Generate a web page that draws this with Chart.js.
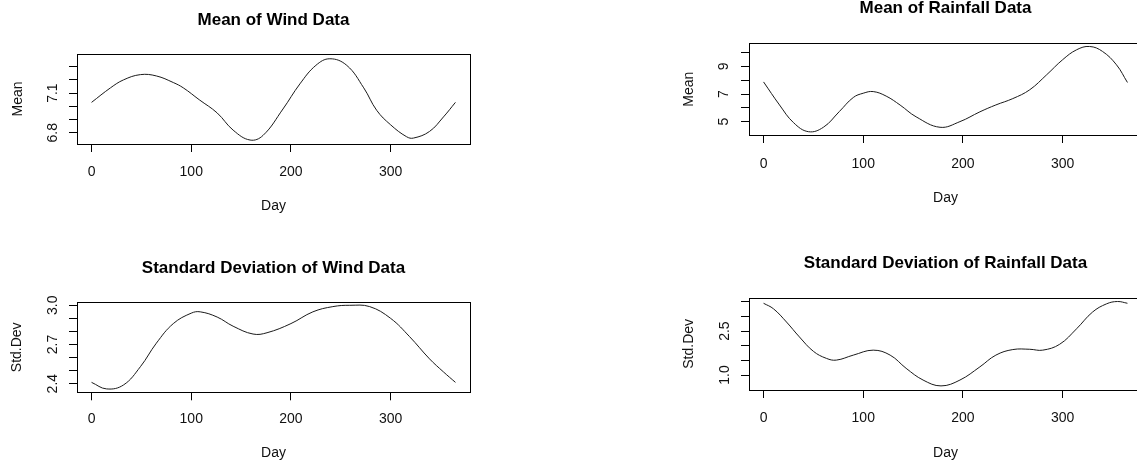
<!DOCTYPE html>
<html>
<head>
<meta charset="utf-8">
<script src="https://cdn.jsdelivr.net/npm/chart.js"></script>
<title>Wind and Rainfall Statistics</title>
<style>
  html, body { margin: 0; padding: 0; background: #fff; overflow: hidden; width: 1137px; height: 462px; }
  canvas { position: absolute; }
</style>
</head>
<body>
<canvas id="windMean" width="568" height="212" style="left:0px; top:6px;"></canvas>
<canvas id="rainMean" width="480" height="216" style="left:672px; top:-6px;"></canvas>
<canvas id="windSd" width="568" height="212" style="left:0px; top:254px;"></canvas>
<canvas id="rainSd" width="480" height="217" style="left:672px; top:249px;"></canvas>

<script>
// values (day of year -> value)
const windMeanDays = [0, 19, 32, 49, 65, 82, 92, 108, 126, 142, 159, 172, 192, 209, 225, 239, 256, 273, 286, 300, 316, 323, 339, 353, 365];
const windMean = [7.03, 7.14, 7.20, 7.24, 7.23, 7.18, 7.14, 7.05, 6.95, 6.82, 6.745, 6.78, 6.98, 7.17, 7.31, 7.36, 7.31, 7.14, 6.97, 6.86, 6.77, 6.76, 6.81, 6.92, 7.03];

const rainMeanDays = [0, 16, 30, 45, 60, 76, 90, 100, 110, 123, 137, 153, 177, 197, 217, 233, 250, 267, 284, 300, 314, 327, 340, 354, 365];
const rainMean = [7.88, 6.21, 4.93, 4.27, 4.59, 5.73, 6.75, 7.06, 7.18, 6.85, 6.20, 5.35, 4.59, 5.00, 5.71, 6.21, 6.67, 7.31, 8.40, 9.49, 10.21, 10.45, 10.09, 9.12, 7.84];

const windSdDays = [0, 15, 32, 49, 65, 82, 100, 109, 126, 142, 162, 176, 200, 222, 242, 259, 279, 300, 319, 339, 353, 365];
const windSd = [2.41, 2.36, 2.39, 2.53, 2.71, 2.86, 2.94, 2.95, 2.91, 2.84, 2.78, 2.79, 2.86, 2.95, 2.99, 3.00, 2.99, 2.90, 2.76, 2.59, 2.49, 2.41];

const rainSdDays = [0, 10, 23, 36, 50, 63, 73, 90, 110, 127, 143, 160, 178, 197, 217, 233, 250, 267, 280, 297, 314, 330, 344, 355, 365];
const rainSd = [3.45, 3.26, 2.81, 2.30, 1.81, 1.57, 1.51, 1.68, 1.85, 1.68, 1.23, 0.83, 0.63, 0.83, 1.28, 1.68, 1.87, 1.88, 1.85, 2.05, 2.58, 3.15, 3.43, 3.51, 3.45];

// tick values and labels (R drops the labels that would overlap)
const dayTicks = [0, 100, 200, 300];
const windMeanTicks = [6.8, 6.9, 7.0, 7.1, 7.2, 7.3];
const windMeanLabels = ['6.8', '', '', '7.1', '', ''];
const rainMeanTicks = [5, 6, 7, 8, 9, 10];
const rainMeanLabels = ['5', '', '7', '', '9', ''];
const windSdTicks = [2.4, 2.5, 2.6, 2.7, 2.8, 2.9, 3.0];
const windSdLabels = ['2.4', '', '', '2.7', '', '', '3.0'];
const rainSdTicks = [1.0, 1.5, 2.0, 2.5, 3.0, 3.5];
const rainSdLabels = ['1.0', '', '', '2.5', '', ''];

Chart.defaults.font.family = "'Liberation Sans', Arial, sans-serif";
Chart.defaults.color = '#111';

// draws the closed frame around the plot region, like R's box()
const plotBox = {
    id: 'plotBox',
    afterDatasetsDraw(chart) {
        const { ctx, chartArea: a } = chart;
        ctx.save();
        ctx.strokeStyle = '#000';
        ctx.lineWidth = 1;
        ctx.strokeRect(Math.round(a.left) + 0.5, Math.round(a.top) + 0.5,
            Math.round(a.right - a.left), Math.round(a.bottom - a.top));
        ctx.restore();
    }
};

function makePanel(id, days, values, yTicks, yLabels, g) {
    const points = days.map((d, i) => ({ x: d, y: values[i] }));
    new Chart(document.getElementById(id), {
        type: 'line',
        data: {
            datasets: [{
                data: points,
                borderColor: '#1a1a1a',
                borderWidth: 1,
                pointRadius: 0,
                fill: false,
                tension: 0.4
            }]
        },
        options: {
            responsive: false,
            animation: false,
            layout: { padding: { left: 0, top: 0, bottom: 0, right: g.padRight } },
            plugins: {
                legend: { display: false },
                tooltip: { enabled: false },
                title: {
                    display: true,
                    text: g.title,
                    fullSize: false,
                    color: '#000',
                    font: { size: 17, weight: 'bold' },
                    padding: { top: g.titleTop, bottom: g.titleBottom }
                }
            },
            scales: {
                x: {
                    type: 'linear',
                    min: -14.6,
                    max: 379.6,
                    afterBuildTicks: s => { s.ticks = dayTicks.map(v => ({ value: v })); },
                    afterFit: s => { s.height = g.xHeight; },
                    grid: { drawOnChartArea: false, drawTicks: true, tickLength: 8, color: '#000' },
                    border: { display: false },
                    ticks: { autoSkip: false, maxRotation: 0, padding: g.xTickPad, font: { size: 14 } },
                    title: { display: true, text: 'Day', font: { size: 14 }, padding: { top: 0, bottom: g.xTitlePad } }
                },
                y: {
                    min: g.yMin,
                    max: g.yMax,
                    afterBuildTicks: s => { s.ticks = yTicks.map(v => ({ value: v })); },
                    afterFit: s => { s.width = 77; },
                    grid: { drawOnChartArea: false, drawTicks: true, tickLength: 8, color: '#000' },
                    border: { display: false },
                    ticks: {
                        autoSkip: false,
                        minRotation: 90,
                        maxRotation: 90,
                        crossAlign: 'center',
                        padding: g.yTickPad,
                        font: { size: 14 },
                        callback: (v, i) => yLabels[i]
                    },
                    title: { display: true, text: g.yTitle, font: { size: 14 }, padding: { top: g.yTitlePad, bottom: 0 } }
                }
            }
        },
        plugins: [plotBox]
    });
}

makePanel('windMean', windMeanDays, windMean, windMeanTicks, windMeanLabels, {
    title: 'Mean of Wind Data', yTitle: 'Mean', yMin: 6.715, yMax: 7.396,
    titleTop: 4.3, titleBottom: 23.3, padRight: 98,
    xHeight: 74, xTickPad: 11.3, xTitlePad: 3.6, yTickPad: 6.1, yTitlePad: 9.6
});
makePanel('rainMean', rainMeanDays, rainMean, rainMeanTicks, rainMeanLabels, {
    title: 'Mean of Rainfall Data', yTitle: 'Mean', yMin: 4.03, yMax: 10.68,
    titleTop: 4.1, titleBottom: 24.8, padRight: 10,
    xHeight: 75, xTickPad: 12.3, xTitlePad: 3.6, yTickPad: 12.6, yTitlePad: 8.6
});
makePanel('windSd', windSdDays, windSd, windSdTicks, windSdLabels, {
    title: 'Standard Deviation of Wind Data', yTitle: 'Std.Dev', yMin: 2.334, yMax: 3.023,
    titleTop: 4.1, titleBottom: 23.8, padRight: 98,
    xHeight: 73.7, xTickPad: 10.8, xTitlePad: 4.3, yTickPad: 6.2, yTitlePad: 9.1
});
makePanel('rainSd', rainSdDays, rainSd, rainSdTicks, rainSdLabels, {
    title: 'Standard Deviation of Rainfall Data', yTitle: 'Std.Dev', yMin: 0.49, yMax: 3.64,
    titleTop: 4.1, titleBottom: 24.2, padRight: 10,
    xHeight: 76, xTickPad: 11.5, xTitlePad: 4.6, yTickPad: 6.4, yTitlePad: 8.6
});
</script>
</body>
</html>
